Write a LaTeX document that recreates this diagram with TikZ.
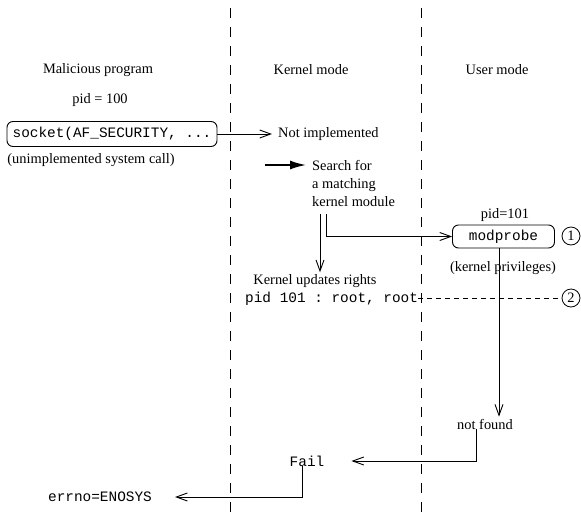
\documentclass[tikz,border=0pt]{standalone}
\usepackage{fontspec}
\setmainfont{Liberation Serif}
\setmonofont{Liberation Mono}
\usetikzlibrary{arrows.meta}
\begin{document}
\begin{tikzpicture}[x=1pt,y=-1pt,
  every node/.style={font=\fontsize{14.4}{18}\selectfont, inner sep=0pt},
  rbox/.style={draw, rounded corners=6pt, line width=0.9pt},
  vtip/.style={-{Straight Barb[length=11pt,width=8pt,line width=0.9pt]}},
  conn/.style={line width=0.9pt, vtip},
  plain/.style={line width=0.9pt},
  sep/.style={line width=1pt, dash pattern=on 10pt off 9pt},
  thickarrow/.style={line width=2.6pt, -{Latex[length=17pt,width=9pt]}},
  num/.style={draw, circle, minimum size=18pt, line width=0.8pt}
]
\useasboundingbox (0,0) rectangle (581,512);
% separators
\coordinate (s1t) at (230,8); \coordinate (s1b) at (230,512);
\coordinate (s2t) at (421,8); \coordinate (s2b) at (421,512);
\draw[sep] (s1t) -- (s1b);
\draw[sep] (s2t) -- (s2b);
% headings
\node (mal) at (98,70) {Malicious program};
\node (km) at (311,70) {Kernel mode};
\node (um) at (497,70) {User mode};
\node (pid100) at (100,100) {pid = 100};
% socket
\node[rbox, minimum width=210pt, minimum height=25pt] (sock) at (112,134) {\ttfamily socket(AF\_SECURITY, ...};
\node (unimpl) at (91,160) {(unimplemented system call)};
\node[anchor=west] (notimpl) at (278,134) {Not implemented};
\draw[conn, shorten >=6pt] (sock.east) -- (notimpl.west);
% search
\node[anchor=west, align=left] (search) at (312,183) {Search for\\a matching\\kernel module};
\coordinate (ta) at (265,165);
\coordinate (tb) at (307,165);
\draw[thickarrow] (ta) -- (tb);
% modprobe
\node (pid101) at (505,215) {pid=101};
\node[rbox, minimum width=102pt, minimum height=23pt] (modp) at (503.5,236.5) {\ttfamily modprobe};
\node[num] (c1) at (571,236) {1};
\node (kpriv) at (503,268) {(kernel privileges)};
% kernel updates rights
\node (rights) at (315,281) {Kernel updates rights};
\coordinate (sa) at (320,214);
\draw[conn, shorten >=2pt] (sa) -- (rights.north -| sa);
\coordinate (sb) at (326,214);
\draw[conn] (sb) |- (modp.west);
% root line
\node[anchor=west] (root) at (245,299) {\ttfamily pid 101 : root, root};
\node[num] (c2) at (571,298) {2};
\draw[plain, dash pattern=on 5pt off 4pt] (root.east |- c2.west) -- (c2.west);
% not found
\node (notfound) at (485,424) {not found};
\draw[conn, shorten >=2pt] (modp.south -| 499,0) -- (notfound.north -| 499,0);
\node (fail) at (307,461) {\ttfamily Fail};
\draw[conn] (notfound.south -| 476,0) |- ([xshift=27pt]fail.east);
\node (errno) at (100,497) {\ttfamily errno=ENOSYS};
\draw[conn] (fail.south -| 302,0) |- ([xshift=23pt]errno.east);
\end{tikzpicture}
\end{document}
